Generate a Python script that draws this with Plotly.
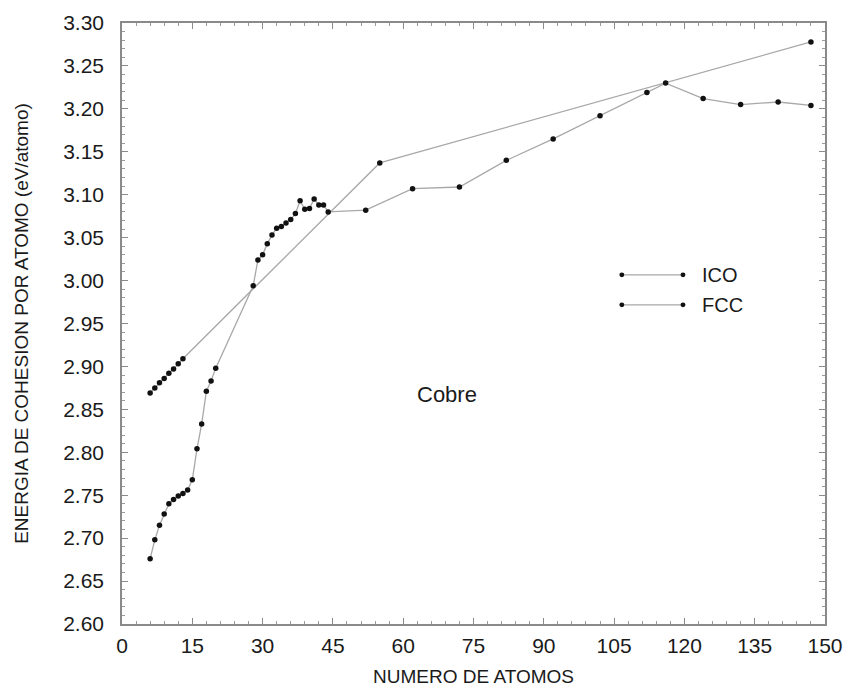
import plotly.graph_objects as go

# ICO series
ico_n = [6, 7, 8, 9, 10, 11, 12, 13, 55, 147]
ico_e = [2.869, 2.875, 2.881, 2.886, 2.892, 2.897, 2.903, 2.909, 3.137, 3.278]

# FCC series
fcc_n = [6, 7, 8, 9, 10, 11, 12, 13, 14, 15, 16, 17, 18, 19, 20, 28,
         29, 30, 31, 32, 33, 34, 35, 36, 37, 38, 39, 40, 41, 42, 43, 44,
         52, 62, 72, 82, 92, 102, 112, 116, 124, 132, 140, 147]
fcc_e = [2.676, 2.698, 2.715, 2.728, 2.740, 2.745, 2.749, 2.752, 2.756, 2.768,
         2.804, 2.833, 2.871, 2.883, 2.898, 2.994,
         3.024, 3.030, 3.043, 3.053, 3.061, 3.063, 3.067, 3.071, 3.078, 3.093,
         3.083, 3.084, 3.095, 3.088, 3.088, 3.080,
         3.082, 3.107, 3.109, 3.140, 3.165, 3.192, 3.219, 3.230, 3.212, 3.205,
         3.208, 3.204]

series_names = ["ICO", "FCC"]
x_ticks = [0, 15, 30, 45, 60, 75, 90, 105, 120, 135, 150]
y_ticks = [2.60, 2.65, 2.70, 2.75, 2.80, 2.85, 2.90, 2.95, 3.00, 3.05, 3.10, 3.15, 3.20, 3.25, 3.30]

FONT = "Liberation Sans, Arial, sans-serif"
LINE = "#a8a8a8"
TXT = "#1a1a1a"

fig = go.Figure()
fig.add_trace(go.Scatter(x=ico_n, y=ico_e, name=series_names[0], mode="lines+markers",
                         line=dict(color=LINE, width=1.3),
                         marker=dict(color="#111111", size=5.5), showlegend=False))
fig.add_trace(go.Scatter(x=fcc_n, y=fcc_e, name=series_names[1], mode="lines+markers",
                         line=dict(color=LINE, width=1.3),
                         marker=dict(color="#111111", size=5.5), showlegend=False))

fig.add_annotation(x=69.3, y=2.867, text="Cobre", showarrow=False,
                   font=dict(family=FONT, size=22, color=TXT))

# legend drawn as decoration in paper coordinates
leg_x0, leg_x1, leg_tx = 0.711, 0.798, 0.822
leg_ys = [0.581, 0.531]
for name, ly in zip(series_names, leg_ys):
    fig.add_shape(type="line", xref="paper", yref="paper", x0=leg_x0, x1=leg_x1, y0=ly, y1=ly,
                  line=dict(color=LINE, width=1.3))
    for lx in (leg_x0, leg_x1):
        fig.add_shape(type="circle", xref="paper", yref="paper",
                      x0=lx - 0.0035, x1=lx + 0.0035, y0=ly - 0.004, y1=ly + 0.004,
                      fillcolor="#111111", line=dict(width=0))
    fig.add_annotation(xref="paper", yref="paper", x=leg_tx, y=ly, text=name, showarrow=False,
                       xanchor="left", yanchor="middle", font=dict(family=FONT, size=20, color=TXT))

axis_common = dict(showgrid=False, zeroline=False, showline=True, linecolor="#8a8a8a",
                   linewidth=1.5, mirror="allticks", ticks="inside", ticklen=6,
                   tickcolor="#8a8a8a", tickfont=dict(family=FONT, size=21, color=TXT),
                   automargin=False)

fig.update_xaxes(range=[0, 150], tickvals=x_ticks, ticktext=[str(v) for v in x_ticks],
                 title=dict(text="NUMERO DE ATOMOS", font=dict(family=FONT, size=19, color=TXT),
                            standoff=14),
                 minor=dict(ticks="inside", ticklen=3, dtick=3, tickcolor="#9a9a9a"),
                 ticklabelstandoff=2,
                 **axis_common)
fig.update_yaxes(range=[2.60, 3.30], tickvals=y_ticks, ticktext=[f"{v:.2f}" for v in y_ticks],
                 title=dict(text="ENERGIA DE COHESION POR ATOMO (eV/atomo)",
                            font=dict(family=FONT, size=19, color=TXT), standoff=30),
                 minor=dict(ticks="inside", ticklen=3, dtick=0.01, tickcolor="#9a9a9a"),
                 ticklabelstandoff=12,
                 **axis_common)

fig.update_layout(width=852, height=691, plot_bgcolor="white", paper_bgcolor="white",
                  margin=dict(l=122, r=27, t=23, b=67),
                  showlegend=False)

fig.write_html("out.html")
